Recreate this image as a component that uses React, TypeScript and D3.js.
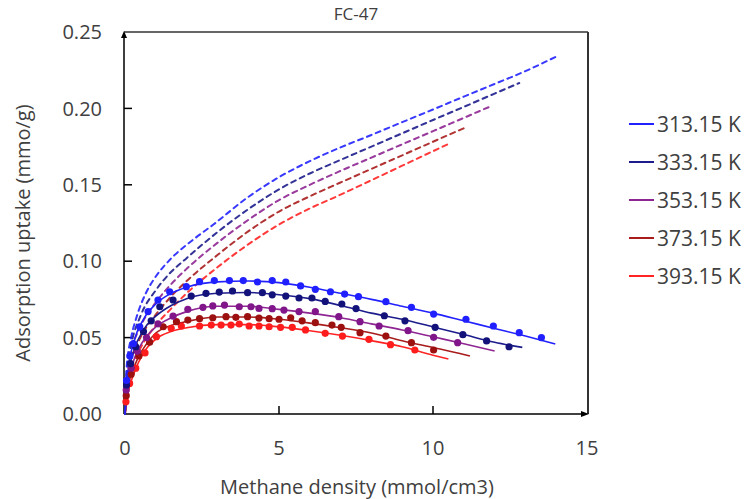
import React from "react";
import * as d3 from "d3";

const seriesLabels = ["313.15 K", "333.15 K", "353.15 K", "373.15 K", "393.15 K"];
const lineColors = ["#2222ff", "#1c1c8c", "#8e2592", "#a81c1c", "#ff2323"];
const dotColors = ["#1f1fff", "#12127a", "#80168a", "#9c1010", "#ff1c1c"];

const xTicks = [0, 5, 10, 15];
const yTicks = [0, 0.05, 0.1, 0.15, 0.2, 0.25];

// dashed curves (x, y)
const dash313X = [0, 0.05, 0.2, 0.38, 0.7, 1.0, 1.45, 2.2, 2.85, 4, 5, 6, 6.94, 8, 9, 10, 11, 12, 13, 13.97];
const dash313Y = [0, 0.03, 0.05, 0.0637, 0.08, 0.09, 0.1008, 0.1139, 0.1237, 0.142, 0.155, 0.1655, 0.174, 0.1826, 0.191, 0.1993, 0.2077, 0.216, 0.2244, 0.2336];
const dash333X = [0, 0.05, 0.2, 0.5, 1, 1.45, 2, 3, 4, 5, 6, 6.94, 8, 9, 10, 11, 12, 12.8];
const dash333Y = [0, 0.025, 0.045, 0.064, 0.081, 0.092, 0.102, 0.119, 0.134, 0.147, 0.1574, 0.1658, 0.175, 0.1837, 0.1924, 0.201, 0.2097, 0.2166];
const dash353X = [0, 0.05, 0.2, 0.5, 1, 1.5, 2, 3, 4, 5, 6, 6.94, 8, 9, 10, 11, 11.9];
const dash353Y = [0, 0.02, 0.04, 0.057, 0.073, 0.085, 0.095, 0.112, 0.127, 0.14, 0.15, 0.1586, 0.1678, 0.1765, 0.1851, 0.1938, 0.2016];
const dash373X = [0, 0.05, 0.2, 0.5, 1, 1.5, 2, 3, 4, 5, 6, 6.94, 8, 9, 10, 11.0];
const dash373Y = [0, 0.017, 0.035, 0.05, 0.065, 0.077, 0.087, 0.104, 0.1195, 0.1325, 0.1425, 0.151, 0.1604, 0.1693, 0.1782, 0.187];
const dash393X = [0, 0.05, 0.2, 0.5, 1, 1.5, 2, 3, 4, 5, 6, 6.94, 8, 9, 10, 10.5];
const dash393Y = [0, 0.014, 0.029, 0.043, 0.058, 0.069, 0.079, 0.096, 0.111, 0.124, 0.1345, 0.143, 0.153, 0.1625, 0.172, 0.1767];

// solid fit curves
const fit313X = [0, 0.1, 0.3, 0.6, 1, 1.5, 2, 3, 4, 5, 6, 7, 8, 9, 10, 11, 12, 13, 13.97];
const fit313Y = [0, 0.028, 0.048, 0.062, 0.072, 0.079, 0.083, 0.0865, 0.087, 0.086, 0.083, 0.079, 0.075, 0.0705, 0.066, 0.061, 0.056, 0.051, 0.0458];
const fit333X = [0, 0.1, 0.3, 0.6, 1, 1.5, 2, 3, 4, 5, 6, 7, 8, 9, 10, 11, 12, 12.9];
const fit333Y = [0, 0.024, 0.042, 0.055, 0.064, 0.071, 0.0755, 0.079, 0.0795, 0.078, 0.0755, 0.071, 0.066, 0.062, 0.057, 0.052, 0.047, 0.0436];
const fit353X = [0, 0.1, 0.3, 0.6, 1, 1.5, 2, 3, 4, 5, 6, 7, 8, 9, 10, 11, 12];
const fit353Y = [0, 0.02, 0.036, 0.048, 0.057, 0.063, 0.067, 0.0705, 0.0705, 0.0685, 0.066, 0.063, 0.059, 0.055, 0.0505, 0.046, 0.0412];
const fit373X = [0, 0.1, 0.3, 0.6, 1, 1.5, 2, 3, 4, 5, 6, 7, 8, 9, 10, 11, 11.2];
const fit373Y = [0, 0.017, 0.031, 0.043, 0.053, 0.058, 0.0605, 0.0635, 0.0635, 0.062, 0.0595, 0.0565, 0.053, 0.048, 0.0435, 0.039, 0.038];
const fit393X = [0, 0.1, 0.3, 0.6, 1, 1.5, 2, 3, 4, 5, 6, 7, 8, 9, 10, 10.5];
const fit393Y = [0, 0.014, 0.027, 0.04, 0.049, 0.054, 0.0565, 0.0585, 0.0585, 0.057, 0.0545, 0.0515, 0.048, 0.044, 0.0385, 0.036];

// measured points
const pts313X = [0.05, 0.16, 0.27, 0.48, 0.75, 1.07, 1.45, 1.99, 2.42, 2.9, 3.39, 3.84, 4.3, 4.78, 5.22, 5.7, 6.18, 6.67, 7.13, 7.58, 8.47, 9.3, 10.02, 11.07, 11.96, 12.8, 13.52];
const pts313Y = [0.022, 0.038, 0.046, 0.057, 0.067, 0.0746, 0.08, 0.0833, 0.0866, 0.0873, 0.0873, 0.0873, 0.0864, 0.0873, 0.0864, 0.0838, 0.0816, 0.08, 0.0785, 0.0768, 0.0735, 0.0698, 0.0654, 0.062, 0.0576, 0.0532, 0.05];
const pts333X = [0.05, 0.18, 0.35, 0.6, 0.85, 1.13, 1.56, 2.15, 2.63, 3.06, 3.49, 3.98, 4.46, 4.78, 5.22, 5.65, 6.07, 6.5, 7.04, 7.5, 8.42, 9.09, 10.07, 10.97, 11.74, 12.47];
const pts333Y = [0.019, 0.033, 0.044, 0.054, 0.061, 0.0702, 0.0746, 0.0772, 0.079, 0.0798, 0.0805, 0.0794, 0.0794, 0.078, 0.0772, 0.0759, 0.0759, 0.0737, 0.072, 0.069, 0.0643, 0.061, 0.0567, 0.0519, 0.0478, 0.044];
const pts353X = [0.04, 0.2, 0.4, 0.7, 1.07, 1.56, 2.04, 2.53, 2.85, 3.23, 3.71, 4.09, 4.35, 4.78, 5.16, 5.65, 6.18, 6.94, 7.63, 8.25, 9.19, 10.02, 10.8];
const pts353Y = [0.0157, 0.03, 0.041, 0.05, 0.059, 0.064, 0.0685, 0.0698, 0.0707, 0.0713, 0.0702, 0.0702, 0.0691, 0.0689, 0.068, 0.067, 0.067, 0.0637, 0.0604, 0.0576, 0.0545, 0.0502, 0.0467];
const pts373X = [0.04, 0.2, 0.45, 0.8, 1.24, 1.67, 2.04, 2.42, 2.85, 3.28, 3.6, 3.98, 4.35, 4.68, 5.0, 5.38, 5.75, 6.18, 6.72, 7.02, 7.63, 8.47, 9.3, 10.02];
const pts373Y = [0.012, 0.026, 0.038, 0.047, 0.0571, 0.0604, 0.0615, 0.0624, 0.063, 0.0637, 0.0633, 0.0637, 0.0628, 0.0624, 0.062, 0.063, 0.061, 0.0598, 0.0582, 0.0567, 0.0532, 0.051, 0.0467, 0.0419];
const pts393X = [0.03, 0.15, 0.35, 0.65, 1.02, 1.5, 1.83, 2.42, 2.8, 3.12, 3.44, 3.71, 4.03, 4.35, 4.68, 5.05, 5.43, 5.86, 6.5, 7.06, 7.92, 8.62, 9.41];
const pts393Y = [0.008, 0.02, 0.03, 0.04, 0.0506, 0.0561, 0.0576, 0.0576, 0.0582, 0.0582, 0.0582, 0.0589, 0.0576, 0.0576, 0.0571, 0.0567, 0.0567, 0.055, 0.0528, 0.051, 0.0489, 0.0454, 0.0419];

const dashX = [dash313X, dash333X, dash353X, dash373X, dash393X];
const dashY = [dash313Y, dash333Y, dash353Y, dash373Y, dash393Y];
const fitX = [fit313X, fit333X, fit353X, fit373X, fit393X];
const fitY = [fit313Y, fit333Y, fit353Y, fit373Y, fit393Y];
const ptsX = [pts313X, pts333X, pts353X, pts373X, pts393X];
const ptsY = [pts313Y, pts333Y, pts353Y, pts373Y, pts393Y];

const FONT = "'Open Sans', sans-serif";

export default function App() {
  const W = 748, H = 499;
  const left = 124, right = 588, top = 32, bottom = 414;
  const x = d3.scaleLinear().domain([0, 15]).range([125, 587]);
  const y = d3.scaleLinear().domain([0, 0.25]).range([bottom, top]);
  const line = d3.line<[number, number]>().x(d => x(d[0])).y(d => y(d[1])).curve(d3.curveMonotoneX);
  const zip = (a: number[], b: number[]) => a.map((v, i) => [v, b[i]] as [number, number]);
  const order = [4, 3, 2, 1, 0];

  return (
    <svg width={W} height={H} style={{ position: "absolute", left: 0, top: 0, background: "#fff" }} fontFamily={FONT}>
      <rect x={0} y={0} width={W} height={H} fill="#fff" />
      {/* frame */}
      <line x1={left} y1={top} x2={right} y2={top} stroke="#333" strokeWidth={1.5} />
      <line x1={right} y1={top} x2={right} y2={bottom} stroke="#333" strokeWidth={2} />
      {/* axes */}
      <line x1={left} y1={bottom} x2={right - 4} y2={bottom} stroke="#000" strokeWidth={1.5} />
      <line x1={left} y1={bottom} x2={left} y2={top + 4} stroke="#000" strokeWidth={1.5} />
      <path d={`M${left - 3},${top + 6} L${left},${top - 1} L${left + 3},${top + 6} Z`} fill="#000" />
      <path d={`M${right - 7},${bottom - 3} L${right + 1},${bottom} L${right - 7},${bottom + 3} Z`} fill="#000" />
      {yTicks.filter(t => t > 0 && t < 0.25).map(t => (
        <line key={"yt" + t} x1={left} x2={left + 8} y1={y(t)} y2={y(t)} stroke="#000" strokeWidth={1.5} />
      ))}
      {xTicks.filter(t => t > 0 && t < 15).map(t => (
        <line key={"xt" + t} x1={x(t)} x2={x(t)} y1={bottom} y2={bottom - 8} stroke="#000" strokeWidth={1.5} />
      ))}
      {yTicks.map(t => (
        <text key={"yl" + t} x={102} y={y(t)} dy="0.36em" textAnchor="end" fontSize={20} fill="#404040">
          {t.toFixed(2)}
        </text>
      ))}
      {xTicks.map(t => (
        <text key={"xl" + t} x={x(t)} y={455} textAnchor="middle" fontSize={20} fill="#404040">
          {t}
        </text>
      ))}
      <text x={356} y={20} textAnchor="middle" fontSize={17} fill="#404040">FC-47</text>
      <text x={357} y={494} textAnchor="middle" fontSize={20} fill="#404040">Methane density (mmol/cm3)</text>
      <text transform={`translate(30,233) rotate(-90)`} textAnchor="middle" fontSize={20} fill="#404040">
        Adsorption uptake (mmo/g)
      </text>
      {/* dashed model curves */}
      {order.map(i => (
        <path key={"d" + i} d={line(zip(dashX[i], dashY[i])) || ""} fill="none" stroke={lineColors[i]}
          strokeWidth={2} strokeDasharray="5,4.5" strokeLinecap="round" opacity={0.9} />
      ))}
      {/* solid fit curves */}
      {order.map(i => (
        <path key={"f" + i} d={line(zip(fitX[i], fitY[i])) || ""} fill="none" stroke={lineColors[i]} strokeWidth={1.6} />
      ))}
      {/* points */}
      {order.map(i => (
        <g key={"p" + i} fill={dotColors[i]}>
          {zip(ptsX[i], ptsY[i]).map((p, j) => (
            <circle key={j} cx={x(p[0])} cy={y(p[1])} r={3.6} />
          ))}
        </g>
      ))}
      {/* legend */}
      {seriesLabels.map((s, i) => (
        <g key={"lg" + i} transform={`translate(629,${124 + i * 38})`}>
          <line x1={0} x2={25} y1={0} y2={0} stroke={lineColors[i]} strokeWidth={2} />
          <text x={28} y={0} dy="0.36em" fontSize={21} fill="#404040">{s}</text>
        </g>
      ))}
    </svg>
  );
}
